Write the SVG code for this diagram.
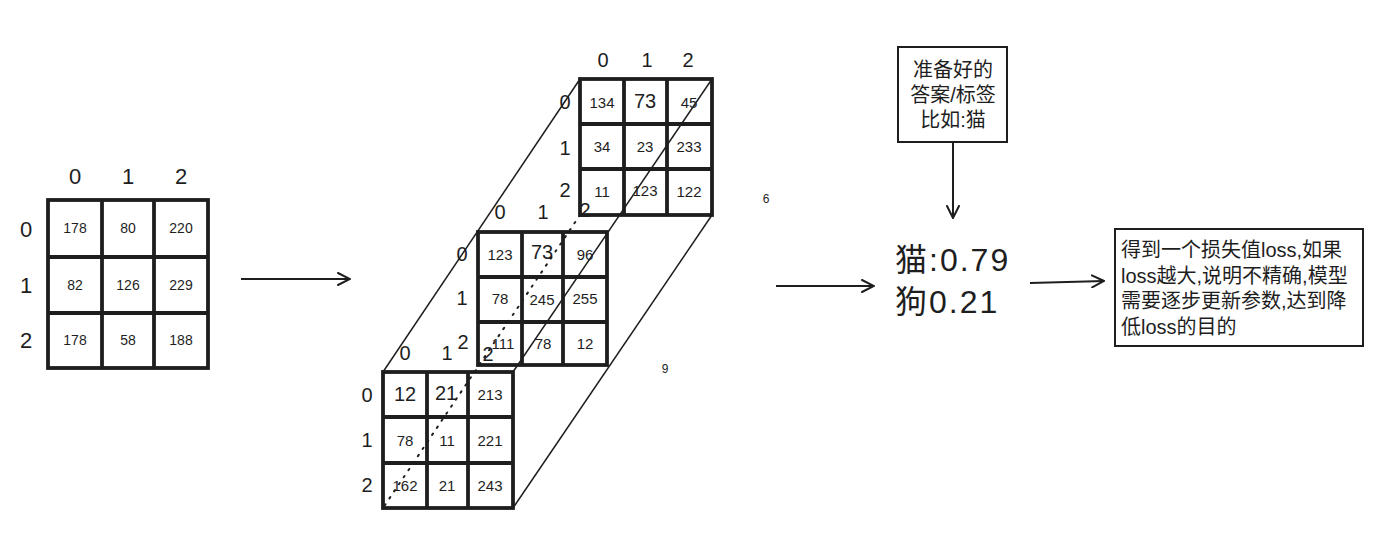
<svg xmlns="http://www.w3.org/2000/svg" width="1396" height="538" viewBox="0 0 1396 538">
<defs>
<style>
.g{fill:#fff;stroke:#1e1e1e;stroke-width:3.8}
.gl{stroke:#1e1e1e;stroke-width:3.8;fill:none}
.t{font-family:"Liberation Sans","Noto Sans CJK SC",sans-serif;fill:#1e1e1e;text-anchor:middle;dominant-baseline:central}
.s14{font-size:14px}
.s15{font-size:15px}
.s20{font-size:20px}
.h{font-size:20px}
.hl{font-size:22px}
.ln{stroke:#1e1e1e;stroke-width:1.5;fill:none}
.dot{stroke:#1e1e1e;stroke-width:2;fill:none;stroke-dasharray:1.5 7;stroke-linecap:round}
.ar{stroke:#1e1e1e;stroke-width:2;fill:none;marker-end:url(#ah)}
.box{fill:#fff;stroke:#1e1e1e;stroke-width:2}
.cj{font-family:"Liberation Sans","Noto Sans CJK SC",sans-serif;fill:#1e1e1e}
</style>
<marker id="ah" viewBox="0 0 14 14" refX="13" refY="7" markerWidth="14" markerHeight="14" markerUnits="userSpaceOnUse" orient="auto">
<path d="M1,1 L13,7 L1,13" fill="none" stroke="#1e1e1e" stroke-width="2" stroke-linecap="round"/>
</marker>
</defs>
<rect width="1396" height="538" fill="#fff"/>

<g id="matrix-input">
<rect class="g" x="48" y="200" width="160" height="168"/>
<path class="gl" d="M102,200V368M154,200V368M48,257H208M48,313H208"/>
<text class="t hl" x="75" y="176">0</text><text class="t hl" x="128" y="176">1</text><text class="t hl" x="181" y="176">2</text>
<text class="t hl" x="26" y="229">0</text><text class="t hl" x="26" y="285">1</text><text class="t hl" x="26" y="340">2</text>
<text class="t s14" x="75" y="228">178</text><text class="t s14" x="128" y="228">80</text><text class="t s14" x="181" y="228">220</text>
<text class="t s14" x="75" y="285">82</text><text class="t s14" x="128" y="285">126</text><text class="t s14" x="181" y="285">229</text>
<text class="t s14" x="75" y="340">178</text><text class="t s14" x="128" y="340">58</text><text class="t s14" x="181" y="340">188</text>
</g>

<g id="matrix-top">
<rect class="g" x="580" y="79" width="132" height="136"/>
<path class="gl" d="M624,79V215M667,79V215M580,124H712M580,169H712"/>
<text class="t h" x="603" y="60">0</text><text class="t h" x="647" y="60">1</text><text class="t h" x="688" y="60">2</text>
<text class="t h" x="565" y="102">0</text><text class="t h" x="565" y="148">1</text><text class="t h" x="565" y="190">2</text>
<text class="t s15" x="602" y="102">134</text><text class="t s20" x="645" y="101">73</text><text class="t s15" x="689" y="102">45</text>
<text class="t s15" x="602" y="146">34</text><text class="t s15" x="645" y="146">23</text><text class="t s15" x="689" y="146">233</text>
<text class="t s15" x="602" y="191">11</text><text class="t s15" x="645" y="190">123</text><text class="t s15" x="689" y="191">122</text>
</g>

<g id="matrix-middle">
<rect class="g" x="478" y="232" width="129" height="133"/>
<path class="gl" d="M522,232V365M563,232V365M478,277H607M478,322H607"/>
<text class="t h" x="500" y="212">0</text><text class="t h" x="543" y="212">1</text><text class="t h" x="585" y="210">2</text>
<text class="t h" x="462" y="254">0</text><text class="t h" x="462" y="298">1</text><text class="t h" x="463" y="342">2</text>
<text class="t s15" x="500" y="254">123</text><text class="t s20" x="542" y="252">73</text><text class="t s15" x="585" y="254">96</text>
<text class="t s15" x="500" y="298">78</text><text class="t s15" x="542" y="299">245</text><text class="t s15" x="585" y="298">255</text>
<text class="t s15" x="503" y="343">111</text><text class="t s15" x="543" y="343">78</text><text class="t s15" x="585" y="343">12</text>
</g>

<g id="matrix-bottom">
<rect class="g" x="383" y="372" width="130" height="136"/>
<path class="gl" d="M427,372V508M468,372V508M383,417H513M383,463H513"/>
<text class="t h" x="405" y="353">0</text><text class="t h" x="447" y="353">1</text><text class="t h" x="488" y="354">2</text>
<text class="t h" x="367" y="395">0</text><text class="t h" x="367" y="440">1</text><text class="t h" x="367" y="485">2</text>
<text class="t s20" x="405" y="394">12</text><text class="t s20" x="446" y="393">21</text><text class="t s15" x="490" y="394">213</text>
<text class="t s15" x="405" y="440">78</text><text class="t s15" x="447" y="440">11</text><text class="t s15" x="490" y="440">221</text>
<text class="t s15" x="405" y="485">162</text><text class="t s15" x="447" y="485">21</text><text class="t s15" x="490" y="485">243</text>
</g>

<g id="label-box">
<rect class="box" x="898" y="47" width="109" height="95"/>
<text class="cj" font-size="20" text-anchor="middle"><tspan x="953" y="77">准备好的</tspan><tspan x="953" y="102">答案/标签</tspan><tspan x="953" y="127">比如:猫</tspan></text>
</g>

<g id="prediction">
<text class="cj" font-size="32" letter-spacing="2"><tspan x="895" y="271">猫:0.79</tspan><tspan x="895" y="313">狗0.21</tspan></text>
</g>

<g id="loss-box">
<rect class="box" x="1115" y="229" width="248" height="117"/>
<text class="cj" font-size="20"><tspan x="1121" y="257">得到一个损失值loss,如果</tspan><tspan x="1121" y="283">loss越大,说明不精确,模型</tspan><tspan x="1121" y="308">需要逐步更新参数,达到降</tspan><tspan x="1121" y="334">低loss的目的</tspan></text>
</g>

<g id="stray-labels">
<text class="t" x="766" y="199" font-size="12">6</text>
<text class="t" x="665" y="369" font-size="12">9</text>
</g>

<g id="connectors">
<path class="ln" d="M580,79L383,372"/>
<path class="ln" d="M712,79L513,372"/>
<path class="ln" d="M712,215L513,508"/>
<path class="dot" d="M580,215L383,508"/>
<path class="ar" d="M241,279H350"/>
<path class="ar" d="M776,286H874"/>
<path class="ar" d="M953,142V218"/>
<path class="ar" d="M1030,283L1104,281"/>
</g>
</svg>
